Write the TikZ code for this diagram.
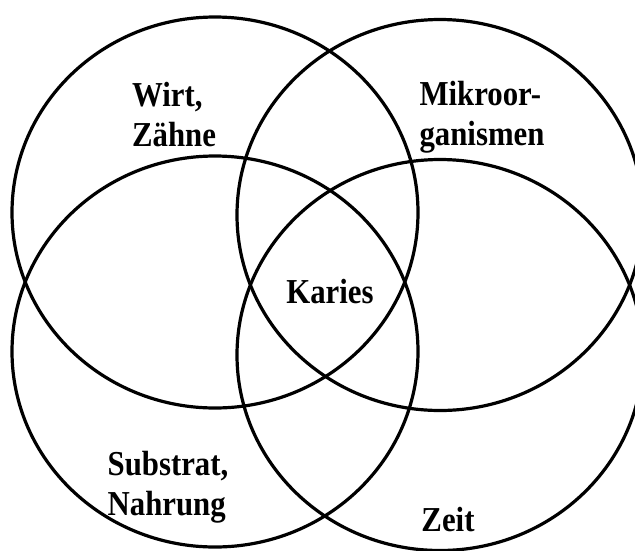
\documentclass[tikz,border=0pt]{standalone}
\usepackage{fontspec}
\setmainfont{Liberation Serif}

\begin{document}
\begin{tikzpicture}[x=1pt,y=-1pt,line width=3.2pt,every node/.style={align=left,xscale=0.88,transform shape,font=\bfseries\fontsize{35}{40}\selectfont}]
\useasboundingbox (0,0) rectangle (635,550);
\clip (0,0) rectangle (635,550);
\draw (215,212.5) ellipse [x radius=203,y radius=195.5];
\draw (440,215) ellipse [x radius=203,y radius=195.5];
\draw (215,351.5) ellipse [x radius=203,y radius=195.5];
\draw (440,355) ellipse [x radius=203,y radius=195.5];
\node (wirt) at (174,115) {Wirt,\\ Zähne};
\node (mikro) at (482,117) {Mikroor-\\ ganismen};
\node (karies) at (330,292) {Karies};
\node (substrat) at (168,487) {Substrat,\\ Nahrung};
\node (zeit) at (448,520) {Zeit};
\end{tikzpicture}
\end{document}
